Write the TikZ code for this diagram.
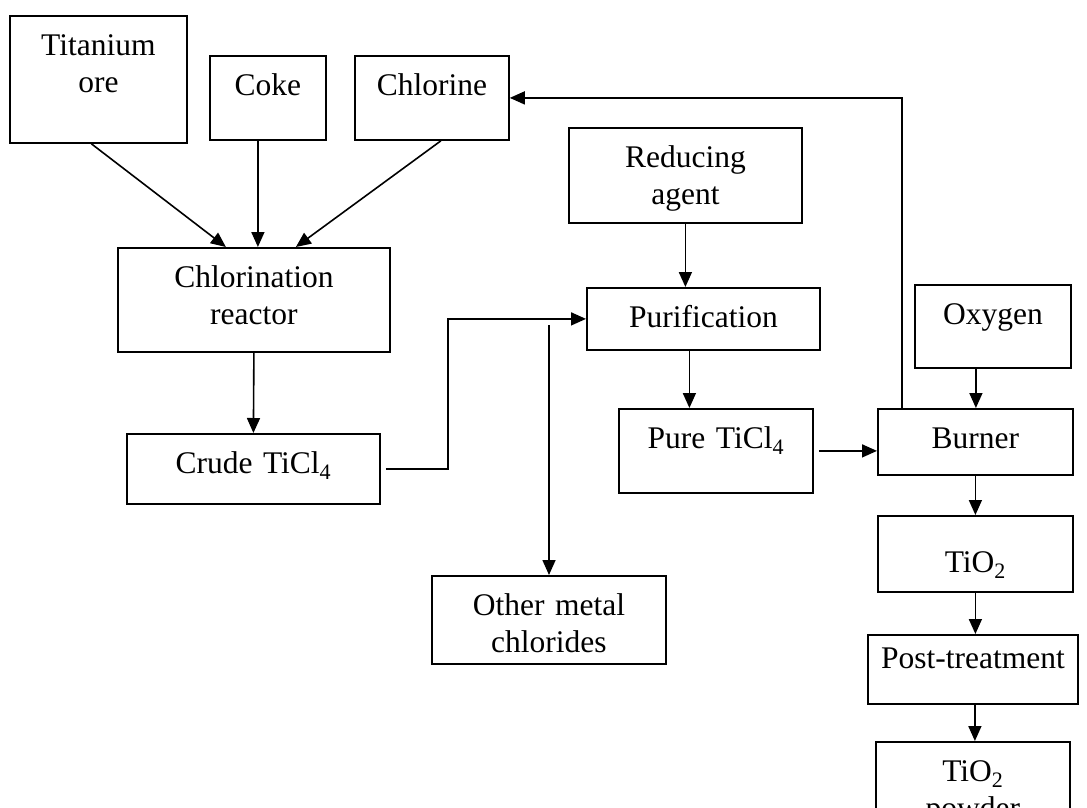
\documentclass[tikz,border=0pt]{standalone}
\usepackage{fontspec}
\setmainfont{Liberation Serif}
\usetikzlibrary{arrows.meta}

\tikzset{
  box/.style={draw, line width=1.8pt, anchor=north west, inner sep=0pt, align=center, text height=40pt},
  arr/.style={line width=1.6pt, -{Triangle[length=15pt,width=13pt]}}
}

\begin{document}
\begin{tikzpicture}[x=1pt, y=-1pt, font=\fontsize{31.5}{36.7}\selectfont]

  \useasboundingbox (0,0) rectangle (1087,807);
  \clip (0,0) rectangle (1087,807);

  \node[box, text width=177pt, text depth=87pt] (ore) at (9,15) {Titanium\\ore};
  \node[box, text width=116pt, text depth=44pt] (coke) at (209,55) {Coke};
  \node[box, text width=154pt, text depth=44pt] (chlorine) at (354,55) {Chlorine};

  \node[box, text width=272pt, text depth=64pt] (reactor) at (117,247) {Chlorination\\reactor};
  \node[box, text width=253pt, text depth=30pt] (crude) at (126,433) {Crude TiCl\textsubscript{4}};

  \node[box, text width=233pt, text depth=55pt] (reducing) at (568,127) {Reducing\\agent};
  \node[box, text width=233pt, text depth=22pt] (purif) at (586,287) {Purification};
  \node[box, text width=194pt, text depth=44pt] (pure) at (618,408) {Pure TiCl\textsubscript{4}};
  \node[box, text width=234pt, text depth=48pt] (other) at (431,575) {Other metal\\chlorides};

  \node[box, text width=156pt, text depth=43pt] (oxygen) at (914,284) {Oxygen};
  \node[box, text width=195pt, text depth=26pt] (burner) at (877,408) {Burner};
  \node[box, text width=195pt, text height=57pt, text depth=19pt] (tio2) at (877,515) {TiO\textsubscript{2}};
  \node[box, text width=210pt, text height=34pt, text depth=35pt] (post) at (867,634) {Post-treatment};
  \node[box, text width=194pt, text depth=60pt] (powder) at (875,741) {TiO\textsubscript{2}\\powder};

  \draw[arr] ([xshift=-7pt]ore.south) -- ([xshift=-28pt]reactor.north);
  \draw[arr] ([xshift=-10pt]coke.south) -- ([xshift=-10pt]coke.south |- reactor.north);
  \draw[arr] ([xshift=9pt]chlorine.south) -- ([xshift=42pt]reactor.north);
  \draw[arr] (reactor.south) -- (crude.north);

  \draw[arr] ([xshift=5pt]crude.east) -- ++(62,0) |- (purif.west);
  \coordinate (tap) at (549,325);
  \draw[arr] (tap) -- (tap |- other.north);

  \draw[arr] (reducing.south) -- (reducing.south |- purif.north);
  \draw[arr] ([xshift=-14pt]purif.south) -- ([xshift=-14pt]purif.south |- pure.north);
  \draw[arr] ([xshift=5pt]pure.east) -- (pure.east -| burner.west);

  \draw[arr] ([xshift=-17pt]oxygen.south) -- ([xshift=-17pt]oxygen.south |- burner.north);
  \draw[arr] ([xshift=25pt]burner.north west) |- (chlorine.east);
  \draw[arr] (burner.south) -- (tio2.north);
  \draw[arr] (tio2.south) -- (tio2.south |- post.north);
  \draw[arr] ([xshift=2pt]post.south) -- ([xshift=2pt]post.south |- powder.north);

\end{tikzpicture}
\end{document}
